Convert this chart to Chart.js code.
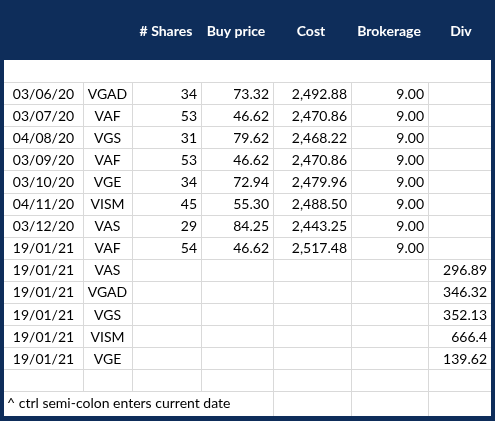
<!DOCTYPE html>
<html><head><meta charset="utf-8">
<script src="https://cdn.jsdelivr.net/npm/chart.js@4"></script>
<style>html,body{margin:0;padding:0;background:#0e2d5a}canvas{display:block}</style>
</head><body><canvas id="c" width="495" height="421"></canvas>
<script>
const headers = ["", "", "# Shares", "Buy price", "Cost", "Brokerage", "Div"];
const dates = ["03/06/20","03/07/20","04/08/20","03/09/20","03/10/20","04/11/20","03/12/20","19/01/21","19/01/21","19/01/21","19/01/21","19/01/21","19/01/21"];
const codes = ["VGAD","VAF","VGS","VAF","VGE","VISM","VAS","VAF","VAS","VGAD","VGS","VISM","VGE"];
const shares = [34,53,31,53,34,45,29,54,null,null,null,null,null];
const buyPrice = [73.32,46.62,79.62,46.62,72.94,55.30,84.25,46.62,null,null,null,null,null];
const cost = [2492.88,2470.86,2468.22,2470.86,2479.96,2488.50,2443.25,2517.48,null,null,null,null,null];
const brokerage = [9,9,9,9,9,9,9,9,null,null,null,null,null];
const div = [null,null,null,null,null,null,null,null,"296.89","346.32","352.13","666.4","139.62"];
const footnote = "^ ctrl semi-colon enters current date";

// layout (not data)
const colEdges = [4,83,132,201,273,351,428,491];
const headerBottom = 60, firstRowTop = 82, rowH = 22.1, footerBottom = 416;
const headerCenters = [0,0,166,236,311,389,461];
const NAVY = "#0e2d5a", GRID = "#d9d9d9";
const fmt2 = v => v==null ? "" : v.toLocaleString("en-US",{minimumFractionDigits:2,maximumFractionDigits:2});

const tablePlugin = {
  id: "table",
  afterDraw(chart) {
    const ctx = chart.ctx, X = v => chart.scales.x.getPixelForValue(v), Y = v => chart.scales.y.getPixelForValue(v);
    ctx.save();
    ctx.fillStyle = NAVY; ctx.fillRect(X(0), Y(0), X(495)-X(0), Y(421)-Y(0));
    ctx.fillStyle = "#fff"; ctx.fillRect(X(colEdges[0]), Y(headerBottom), X(colEdges[7])-X(colEdges[0]), Y(footerBottom)-Y(headerBottom));
    // header text
    ctx.font = "bold 14px Lato"; ctx.textAlign = "center"; ctx.textBaseline = "middle";
    headers.forEach((h,i)=>{ if(h) ctx.fillText(h, X(headerCenters[i]), Y(31)); });
    const nRows = dates.length + 1; // + empty row
    const footerTop = firstRowTop + nRows*rowH;
    ctx.strokeStyle = GRID; ctx.lineWidth = 1;
    // horizontal lines
    for (let r=0; r<=nRows; r++){ const y=Math.round(Y(firstRowTop + r*rowH))+0.5; ctx.beginPath(); ctx.moveTo(X(colEdges[0]),y); ctx.lineTo(X(colEdges[7]),y); ctx.stroke(); }
    // vertical lines
    colEdges.slice(1,7).forEach((cx,i)=>{
      const x=Math.round(X(cx))+0.5; ctx.beginPath();
      const top = (i>=3)? headerBottom : firstRowTop;
      ctx.moveTo(x, Y(i>=3?firstRowTop:firstRowTop)); ctx.lineTo(x, Y(i>=3?footerBottom:footerTop)); ctx.stroke();
    });
    // cells
    ctx.fillStyle = "#000"; ctx.font = "14px Lato";
    const cols = [dates, codes, shares.map(v=>v==null?"":String(v)), buyPrice.map(fmt2), cost.map(fmt2), brokerage.map(fmt2), div];
    dates.forEach((_,r)=>{
      const cy = Y(firstRowTop + r*rowH + rowH/2 + 1);
      cols.forEach((col,c)=>{
        const t = col[r]; if(t==null||t==="") return;
        if (c<2){ ctx.textAlign="center"; ctx.fillText(t, (X(colEdges[c])+X(colEdges[c+1]))/2, cy); }
        else { ctx.textAlign="right"; ctx.fillText(t, X(colEdges[c+1])-4, cy); }
      });
    });
    ctx.textAlign="left";
    ctx.fillText(footnote, X(colEdges[0]+3), Y(footerTop + (footerBottom-footerTop)/2));
    ctx.restore();
  }
};

new Chart(document.getElementById("c"), {
  type: "scatter",
  data: { datasets: [{ data: dates.map((d,i)=>({x: colEdges[0], y: firstRowTop + i*rowH})), pointRadius: 0 }] },
  options: {
    responsive: false, animation: false,
    layout: { padding: 0 },
    plugins: { legend: {display:false}, tooltip: {enabled:false} },
    scales: {
      x: { type:"linear", min:0, max:495, display:false },
      y: { type:"linear", min:0, max:421, reverse:true, display:false }
    }
  },
  plugins: [tablePlugin]
});
</script></body></html>
